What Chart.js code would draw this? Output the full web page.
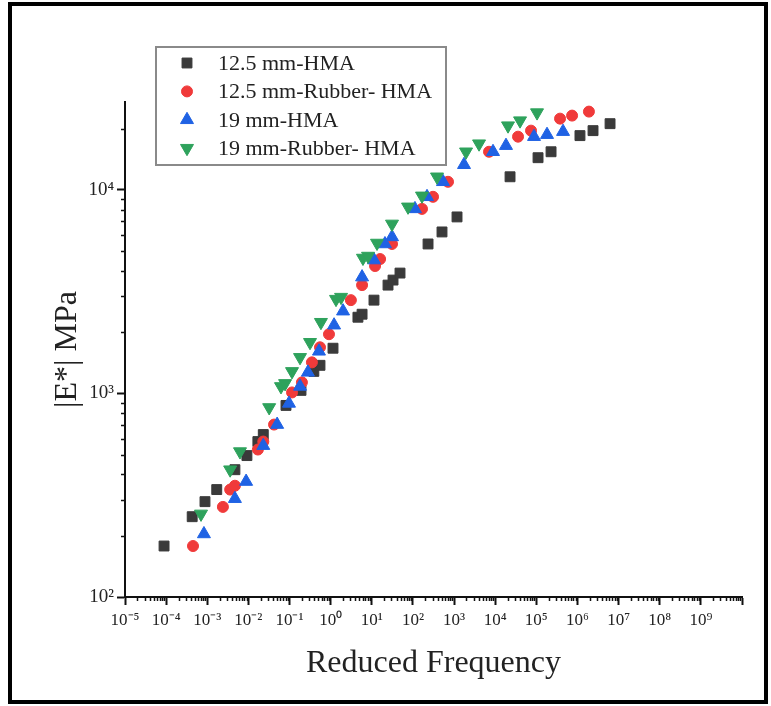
<!DOCTYPE html>
<html lang="en">
<head>
<meta charset="UTF-8">
<title>|E*| vs Reduced Frequency</title>
<style>
  body { margin: 0; background: #fff; }
  #wrap { position: relative; width: 771px; height: 706px; }
  #myChart { display: block; }
  /* thin black frame round the whole figure */
  #frame { position: absolute; left: 8px; top: 2px; width: 760px; height: 702px;
           box-sizing: border-box; border: 4px solid #000; pointer-events: none; }
</style>
</head>
<body>
<div id="wrap">
  <canvas id="myChart" width="771" height="706"></canvas>
  <div id="frame"></div>
</div>
<script src="https://cdn.jsdelivr.net/npm/chart.js@4.4.0/dist/chart.umd.min.js"></script>
<script>
    // series names (legend order)
    const seriesNames = ['12.5 mm-HMA', '12.5 mm-Rubber- HMA', '19 mm-HMA', '19 mm-Rubber- HMA'];

    // 12.5 mm-HMA
    const hma125X = [8.9e-5, 4.3e-4, 8.8e-4, 1.7e-3, 4.7e-3, 9.2e-3, 0.017, 0.023, 0.082, 0.19, 0.39, 0.55, 1.14,
        4.6, 5.8, 11.3, 24.8, 32.8, 48.5, 233, 509, 1180, 22960, 1.1e5, 2.28e5, 1.15e6, 2.39e6, 6.2e6];
    const hma125Y = [178, 248, 294, 337, 422, 495, 580, 628, 873, 1035, 1283, 1374, 1667,
        2367, 2449, 2872, 3404, 3603, 3900, 5420, 6210, 7360, 11590, 14380, 15380, 18460, 19530, 21130];

    // 12.5 mm-Rubber- HMA
    const rub125X = [4.5e-4, 2.4e-3, 3.6e-3, 4.7e-3, 0.017, 0.023, 0.042, 0.115, 0.2, 0.35, 0.55, 0.91, 3.1,
        5.8, 12.0, 15.9, 31, 166, 308, 713, 7080, 35900, 74300, 3.77e5, 7.4e5, 1.9e6];
    const rub125Y = [178, 277, 337, 352, 530, 580, 703, 1011, 1133, 1421, 1685, 1953, 2872,
        3404, 4225, 4571, 5420, 8060, 9240, 10950, 15380, 18240, 19530, 22370, 23150, 24220];

    // 19 mm-HMA
    const hma19X = [8.3e-4, 4.7e-3, 8.8e-3, 0.023, 0.05, 0.097, 0.18, 0.28, 0.52, 1.21, 2.0, 5.8,
        11.3, 20.9, 31, 112, 220, 538, 1745, 8850, 18300, 87900, 1.82e5, 4.46e5];
    const hma19Y = [204, 304, 369, 554, 703, 893, 1082, 1269, 1610, 2163, 2535, 3726,
        4520, 5420, 5870, 8060, 9240, 10950, 13280, 15380, 16480, 18240, 18660, 19310];

    // 19 mm-Rubber- HMA
    const rub19X = [7.05e-4, 3.6e-3, 6.25e-3, 0.032, 0.062, 0.078, 0.115, 0.18, 0.315, 0.58, 1.35, 1.79,
        6.1, 8.1, 13.4, 31, 76, 166, 385, 1955, 4050, 20500, 40200, 1.04e5];
    const rub19Y = [256, 422, 518, 853, 1082, 1120, 1283, 1504, 1783, 2237, 2904, 2971,
        4624, 4729, 5480, 6800, 8250, 9340, 11590, 15380, 16850, 20660, 21870, 23950];

    // axis decades and their labels
    const xExponents = [-5, -4, -3, -2, -1, 0, 1, 2, 3, 4, 5, 6, 7, 8, 9, 10];
    const xTickLabels = ['10⁻⁵', '10⁻⁴', '10⁻³', '10⁻²', '10⁻¹', '10⁰', '10¹', '10²', '10³',
        '10⁴', '10⁵', '10⁶', '10⁷', '10⁸', '10⁹', ''];
    const yExponents = [2, 3, 4];
    const yTickLabels = ['10²', '10³', '10⁴'];

    const serif = "'Liberation Serif', 'Times New Roman', serif";

    function pts(xs, ys) {
        return xs.map((x, i) => ({ x: x, y: ys[i] }));
    }

    function isDecade(v) {
        const l = Math.log10(v);
        return Math.abs(l - Math.round(l)) < 1e-9;
    }

    // 1..9 x 10^e for every decade, kept inside [min, max]
    function buildTicks(exps, min, max) {
        const out = [];
        exps.forEach(e => {
            for (let m = 1; m <= 9; m++) {
                const v = m * Math.pow(10, e);
                if (v >= min * 0.999 && v <= max * 1.001) out.push({ value: v });
            }
        });
        return out;
    }

    function labelFor(v, exps, labels) {
        if (!isDecade(v)) return '';
        const i = exps.indexOf(Math.round(Math.log10(v)));
        return i < 0 ? '' : labels[i];
    }

    // short minor ticks, drawn where the library put the non-decade ticks
    const minorTicks = {
        id: 'minorTicks',
        afterDraw(chart) {
            const ctx = chart.ctx;
            const xs = chart.scales.x;
            const ys = chart.scales.y;
            ctx.save();
            ctx.strokeStyle = '#111';
            ctx.lineWidth = 1.5;
            ctx.beginPath();
            xs.ticks.forEach(t => {
                if (isDecade(t.value)) return;
                const px = Math.round(xs.getPixelForValue(t.value)) + 0.5;
                ctx.moveTo(px, xs.top);
                ctx.lineTo(px, xs.top + 4);
            });
            ys.ticks.forEach(t => {
                if (isDecade(t.value)) return;
                const py = Math.round(ys.getPixelForValue(t.value)) + 0.5;
                ctx.moveTo(ys.right, py);
                ctx.lineTo(ys.right - 4, py);
            });
            ctx.stroke();
            ctx.restore();
        }
    };

    // boxed legend inside the plot, top left
    const boxLegend = {
        id: 'boxLegend',
        afterDraw(chart) {
            const ctx = chart.ctx;
            ctx.save();
            ctx.fillStyle = '#fff';
            ctx.strokeStyle = '#8a8a8a';
            ctx.lineWidth = 2;
            ctx.fillRect(156, 47, 290, 118);
            ctx.strokeRect(156, 47, 290, 118);
            ctx.font = '22px ' + serif;
            ctx.textBaseline = 'middle';
            chart.data.datasets.forEach((ds, i) => {
                const y = 63 + i * 28.4;
                ctx.fillStyle = ds.backgroundColor;
                ctx.strokeStyle = ds.borderColor;
                ctx.lineWidth = ds.borderWidth;
                Chart.helpers.drawPoint(ctx, {
                    pointStyle: ds.pointStyle,
                    rotation: ds.pointRotation || 0,
                    radius: ds.pointRadius,
                    borderWidth: ds.borderWidth
                }, 187, y);
                ctx.fillStyle = '#222';
                ctx.fillText(ds.label, 218, y + 1);
            });
            ctx.restore();
        }
    };

    const ctx = document.getElementById('myChart').getContext('2d');
    const myChart = new Chart(ctx, {
        type: 'scatter',
        data: {
            datasets: [{
                label: seriesNames[0],
                data: pts(hma125X, hma125Y),
                pointStyle: 'rect',
                pointRadius: 7,
                backgroundColor: '#3a3a3a',
                borderColor: '#3a3a3a',
                borderWidth: 1,
                order: 4
            }, {
                label: seriesNames[1],
                data: pts(rub125X, rub125Y),
                pointStyle: 'circle',
                pointRadius: 5.5,
                backgroundColor: '#f03a3a',
                borderColor: '#f03a3a',
                borderWidth: 1,
                order: 3
            }, {
                label: seriesNames[2],
                data: pts(hma19X, hma19Y),
                pointStyle: 'triangle',
                pointRadius: 7.5,
                backgroundColor: '#1f62e4',
                borderColor: '#1f62e4',
                borderWidth: 1,
                order: 2
            }, {
                label: seriesNames[3],
                data: pts(rub19X, rub19Y),
                pointStyle: 'triangle',
                pointRotation: 180,
                pointRadius: 7.5,
                backgroundColor: '#2ea25c',
                borderColor: '#2ea25c',
                borderWidth: 1,
                order: 1
            }]
        },
        options: {
            responsive: false,
            animation: false,
            layout: { padding: { left: 0, right: 29, top: 102, bottom: 0 } },
            plugins: {
                legend: { display: false },
                tooltip: { enabled: false }
            },
            scales: {
                x: {
                    type: 'logarithmic',
                    position: 'bottom',
                    min: 1e-5,
                    max: 1e10,
                    afterBuildTicks: s => { s.ticks = buildTicks(xExponents, 1e-5, 1e10); },
                    afterFit: s => { s.height = 109; },
                    border: { display: true, color: '#111', width: 2 },
                    grid: {
                        drawOnChartArea: false,
                        tickLength: 8,
                        tickWidth: 2,
                        tickColor: c => (c.tick && isDecade(c.tick.value)) ? '#111' : 'rgba(0,0,0,0)'
                    },
                    ticks: {
                        autoSkip: false,
                        maxRotation: 0,
                        minRotation: 0,
                        padding: 5,
                        color: '#222',
                        font: { family: serif, size: 17 },
                        callback: v => labelFor(v, xExponents, xTickLabels)
                    },
                    title: {
                        display: true,
                        text: 'Reduced Frequency',
                        color: '#222',
                        font: { family: serif, size: 32 },
                        padding: { top: 0, bottom: 23 }
                    }
                },
                y: {
                    type: 'logarithmic',
                    position: 'left',
                    min: 100,
                    max: 27000,
                    afterBuildTicks: s => { s.ticks = buildTicks(yExponents, 100, 27000); },
                    afterFit: s => { s.width = 125; },
                    border: { display: true, color: '#111', width: 2 },
                    grid: {
                        drawOnChartArea: false,
                        tickLength: 8,
                        tickWidth: 2,
                        tickColor: c => (c.tick && isDecade(c.tick.value)) ? '#111' : 'rgba(0,0,0,0)'
                    },
                    ticks: {
                        autoSkip: false,
                        padding: 3,
                        color: '#222',
                        font: { family: serif, size: 19 },
                        callback: v => labelFor(v, yExponents, yTickLabels)
                    },
                    title: {
                        display: true,
                        text: '|E*| MPa',
                        color: '#222',
                        font: { family: serif, size: 32 },
                        padding: { top: 48, bottom: 0 }
                    }
                }
            }
        },
        plugins: [minorTicks, boxLegend]
    });
</script>
</body>
</html>
